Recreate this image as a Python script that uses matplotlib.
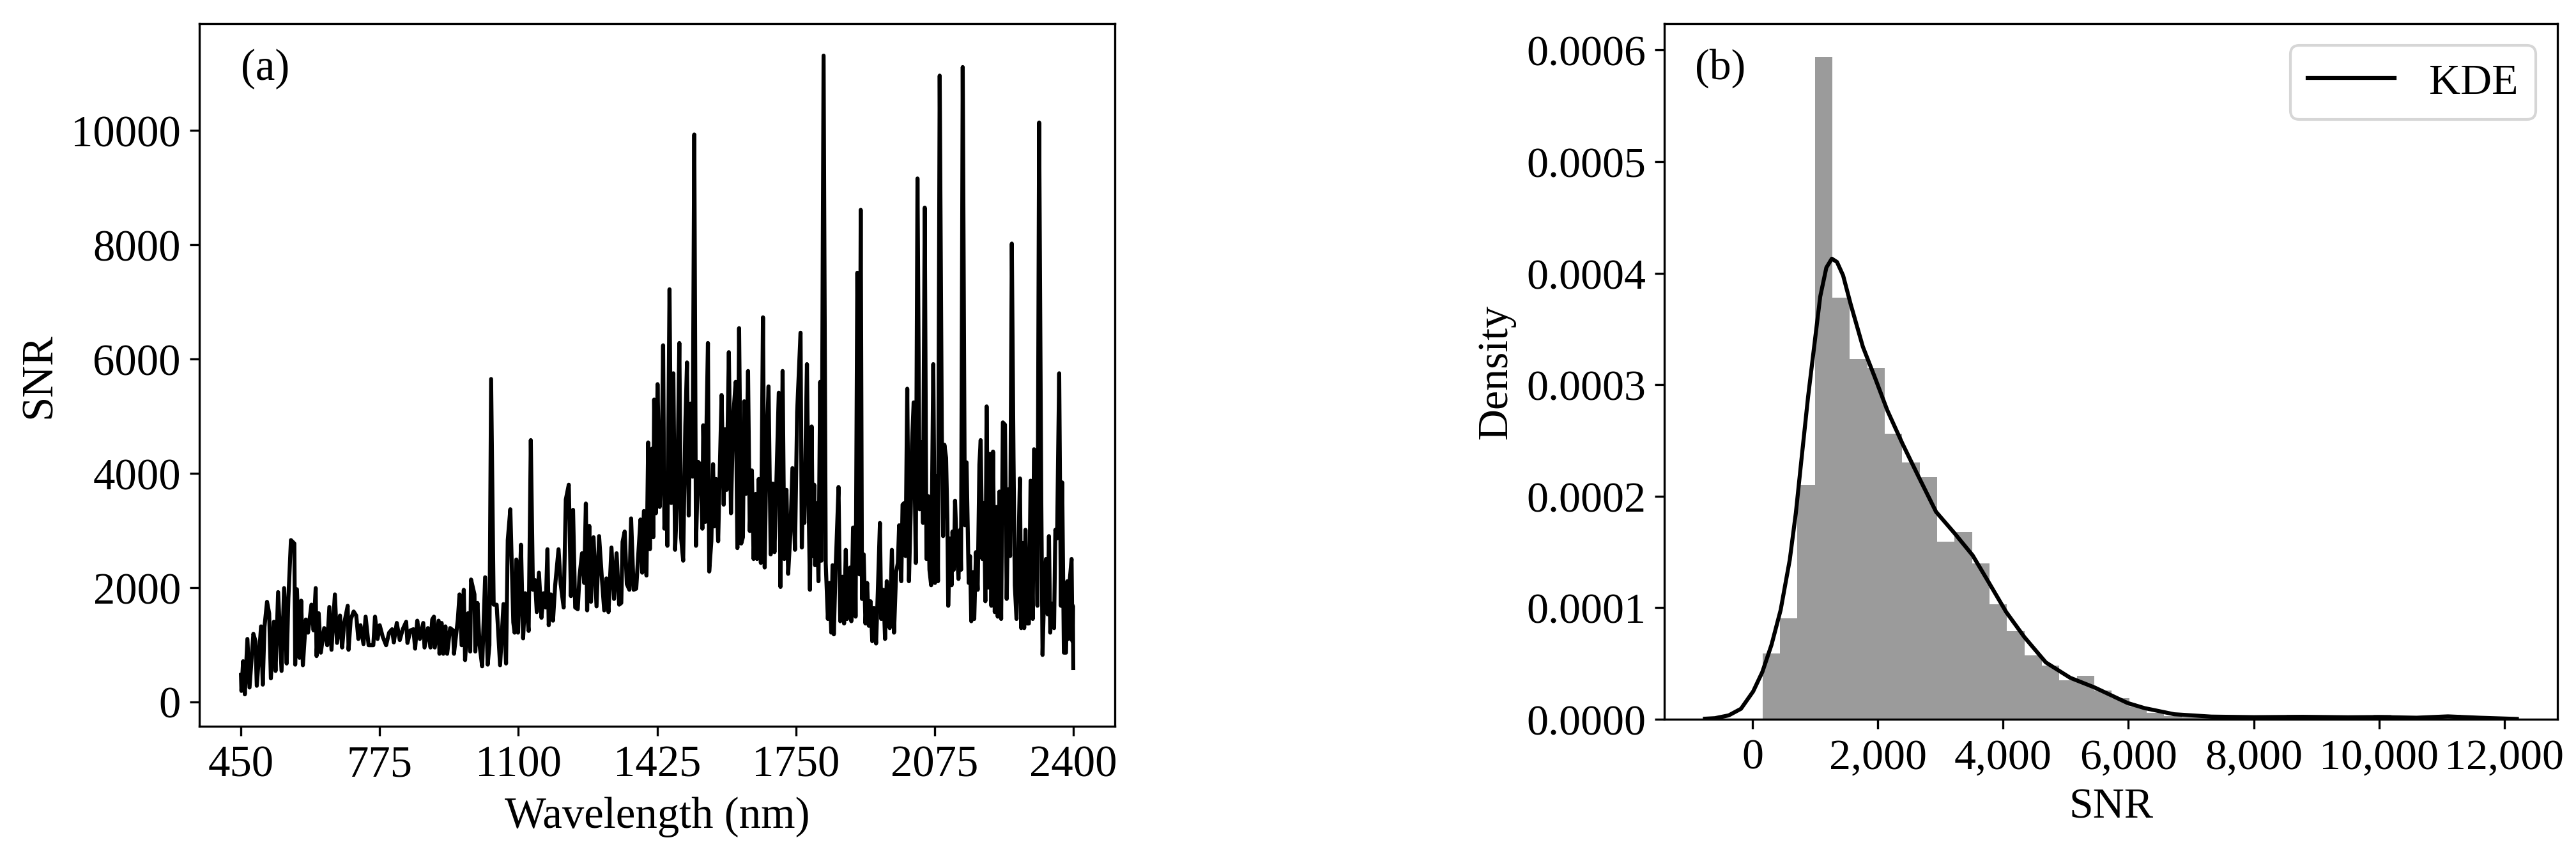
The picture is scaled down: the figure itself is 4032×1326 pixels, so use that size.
import matplotlib

matplotlib.use("Agg")
import matplotlib.pyplot as plt
import matplotlib as mpl
from matplotlib.ticker import FuncFormatter
import numpy as np

# SNR spectrum
wavelength_nm = [
    450, 451, 455, 459, 465, 470, 479, 484, 487, 497, 501, 505, 511, 516, 520,
    527, 531, 537, 545, 551, 557, 561, 567, 575, 577, 581, 587, 591, 595, 602,
    607, 615, 620, 625, 627, 632, 637, 645, 652, 657, 662, 670, 675, 682, 687,
    692, 700, 702, 707, 714, 720, 725, 730, 737, 742, 749,
    760, 764, 770, 775, 782, 790, 797, 804, 808, 815, 822, 829, 837, 840, 847,
    854, 858, 863, 869, 877, 880, 888, 894, 898, 902, 904, 913, 915, 920, 924,
    929, 933, 940, 947, 949, 958, 962, 967, 972, 975, 982, 987, 989, 997, 999,
    1004, 1009, 1015, 1022, 1028, 1032, 1036, 1042, 1049, 1057, 1065, 1071,
    1075, 1081,
    1088, 1091, 1095, 1099, 1103, 1106, 1111, 1116, 1124, 1129, 1134, 1139,
    1143, 1148, 1154, 1159, 1164, 1168, 1171, 1176, 1181, 1186, 1194, 1199,
    1206, 1211, 1218, 1223, 1228, 1233, 1239, 1243, 1249, 1254, 1258, 1261,
    1266, 1270, 1276, 1283, 1289, 1296, 1301, 1306, 1311, 1318, 1324, 1330,
    1336, 1341, 1344, 1349, 1354, 1360, 1364, 1370, 1376, 1381, 1386, 1390,
    1394, 1400, 1404, 1408,
    1413, 1416, 1418, 1422, 1426, 1431, 1436, 1439, 1442, 1446, 1449, 1454,
    1458, 1463, 1467, 1472, 1477, 1481, 1486, 1491, 1495, 1499, 1503, 1508,
    1512, 1516, 1521, 1526, 1531, 1533, 1538, 1541, 1544, 1547, 1552, 1556,
    1559, 1563, 1568, 1572, 1576, 1581, 1584, 1588, 1593, 1598, 1603, 1609,
    1613, 1617, 1622, 1626, 1629, 1633, 1638, 1642, 1647, 1651, 1656, 1659,
    1663, 1668, 1673, 1677, 1681, 1686, 1691, 1696, 1700, 1704, 1710, 1714,
    1719, 1723, 1728, 1732, 1737, 1742, 1748, 1753,
    1761, 1764, 1767, 1770, 1773, 1776, 1779, 1783, 1787, 1790, 1793, 1795,
    1799, 1803, 1807, 1810, 1815, 1820, 1825, 1829, 1833, 1836, 1839, 1843,
    1845, 1850, 1854, 1859, 1863, 1867, 1870, 1874, 1877, 1880, 1884, 1888,
    1890, 1894, 1899, 1902, 1905, 1909, 1913, 1917, 1921, 1925, 1929, 1933,
    1938, 1942, 1947, 1950, 1955, 1959, 1963, 1967, 1970, 1975, 1980, 1985,
    1989, 1992, 1997, 2000, 2004, 2007, 2011, 2015, 2019, 2022, 2026, 2031,
    2035, 2040, 2045, 2048, 2052, 2056, 2060, 2063, 2067, 2072, 2076, 2080,
    2083, 2087, 2092, 2095, 2098, 2102, 2105, 2107, 2111, 2115, 2117, 2120,
    2123, 2127, 2131, 2135, 2137, 2141, 2146, 2150, 2155, 2158, 2161, 2165,
    2168, 2172, 2176, 2180, 2183, 2187, 2191, 2194, 2197, 2201, 2205, 2208,
    2212, 2216, 2220, 2223, 2227, 2231, 2235, 2240, 2244, 2248, 2252, 2256,
    2260, 2263, 2267, 2271, 2275, 2278, 2281, 2285, 2288, 2292, 2296, 2300,
    2305, 2308, 2312, 2316, 2320, 2325, 2328, 2332, 2336, 2340, 2343, 2346,
    2350, 2355, 2358, 2362, 2367, 2371, 2374, 2378, 2383, 2386, 2389, 2392,
    2396, 2398, 2399, 2400,
]
snr = [
    470, 190, 710, 130, 1100, 250, 1190, 1060, 280, 1320, 300, 1310, 1750,
    1550, 410, 1400, 540, 1920, 540, 1990, 670, 1810, 2830, 2770, 650, 1970,
    770, 1770, 640, 1440, 1210, 1700, 1250, 1990, 800, 1550, 860, 1290, 990,
    1660, 910, 1880, 1030, 1510, 950, 1380, 1680, 910, 1440, 1580, 1510, 1100,
    1340, 1010, 1490, 990,
    990, 1490, 1100, 1340, 1140, 990, 1210, 1270, 1040, 1380, 1080, 1270, 1400,
    1030, 1250, 1270, 930, 1420, 1100, 1380, 950, 1290, 950, 1440, 1490, 950,
    1420, 840, 1380, 840, 1320, 840, 1290, 1250, 840, 1440, 1880, 990, 1960,
    730, 1550, 880, 2140, 1880, 880, 1730, 990, 620, 2180, 650, 990, 5650,
    1700, 1700, 640, 1710, 670, 2830, 3370,
    1390, 1210, 2490, 1210, 2060, 2750, 1110, 1900, 1240, 4580, 1960, 2130,
    1570, 2260, 1470, 1900, 1650, 2670, 1340, 1880, 1420, 2030, 2670, 2060,
    1650, 3540, 3800, 1850, 3360, 1650, 1620, 2190, 2600, 2080, 3470, 1600,
    3080, 1750, 2880, 1670, 2900, 2110, 1600, 2160, 1570, 2700, 1800, 2600,
    1700, 1730, 2800, 2980, 2060, 1960, 3210, 1960, 1980, 2600, 3190, 2260,
    3340, 2210, 4540, 2670,
    4430, 2880, 5290, 3300, 5560, 3410, 4390, 6240, 3030, 3900, 2730, 7220,
    3480, 5750, 2660, 3560, 6280, 2880, 2470, 4840, 5940, 3260, 5220, 3940,
    9930, 2730, 4200, 4160, 3030, 4840, 3150, 4990, 6280, 2280, 2810, 4160,
    3070, 3900, 2810, 4130, 5370, 3450, 4770, 3710, 6120, 3300, 4960, 5600,
    2690, 6540, 2770, 2880, 5260, 3640, 5790, 2990, 4050, 2500, 3640, 2500,
    3900, 2430, 6730, 2350, 4310, 5520, 2580, 3820, 2620, 3750, 5410, 2010,
    5790, 2500, 3710, 2240, 2920, 4090, 2660, 5070,
    6460, 2700, 3720, 3130, 4580, 5910, 3950, 1960, 4820, 2550, 3800, 2390,
    3480, 2110, 5600, 2470, 11310, 2430, 1450, 2080, 1210, 2390, 1180, 2310,
    2700, 3760, 1410, 2190, 1370, 2660, 1450, 1570, 2350, 1410, 3050, 3050,
    1490, 7510, 2230, 8610, 1800, 2580, 1370, 2080, 1330, 1760, 1060, 1640,
    1020, 1920, 3130, 1450, 1960, 1100, 2110, 1530, 1290, 2660, 1210, 2270,
    2430, 3090, 2110, 3450, 3480, 2550, 5480, 2110, 3290, 4500, 5240, 2430,
    9160, 3370, 4540, 3130, 8650, 2500, 3600, 2310, 2040, 5910, 2080, 3950,
    2110, 10960, 4740, 2900, 4500, 4270, 3210, 1680, 2860, 2040, 2980, 2310,
    3520, 2700, 2150, 3010, 2310, 11110, 3090, 4190, 2080, 2550, 1410, 2270,
    1450, 2620, 1960, 4150, 4580, 2500, 3480, 1760, 5170, 2000, 4340, 1680,
    4380, 1570, 3410, 1490, 3680, 1450, 4890, 4850, 1800, 3720, 2550, 8020,
    4270, 2040, 1450, 2500, 3910, 1290, 2780, 1290, 3010, 1370, 1370, 3870,
    1450, 4420, 4380, 1680, 10140, 3560, 820, 2000, 2500, 1530, 2900, 1210,
    1720, 1290, 3010, 2860, 5750, 1680, 3840, 860, 860, 2110, 1100, 2150,
    2500, 1060, 1680, 590,
]
wavelength_ticks = [450, 775, 1100, 1425, 1750, 2075, 2400]
snr_ticks = [0, 2000, 4000, 6000, 8000, 10000]

# SNR distribution
hist_range = [160, 11310]
hist_density = [
    0.0000590, 0.0000903, 0.000210, 0.000594, 0.000378, 0.000323, 0.000315,
    0.000256, 0.000230, 0.000217, 0.000159, 0.000168, 0.000140, 0.000103,
    0.0000792, 0.0000573, 0.0000483, 0.0000351, 0.0000392, 0.0000260,
    0.0000190, 0.0000115, 0.0000057, 0.0000030, 0.0000020, 0.0000020,
    0.0000020, 0.0, 0.0000020, 0.0, 0.0000040, 0.0, 0.0000020, 0.0, 0.0,
    0.0000040, 0.0, 0.0, 0.0000020, 0.0000040,
]
kde_snr = [
    -760, -600, -380, -185, 10, 156, 302, 448, 594, 691, 788, 886, 983, 1080,
    1178, 1265, 1348, 1445, 1567, 1761, 1956, 2151, 2394, 2637, 2929, 3221,
    3513, 3757, 4048, 4340, 4681, 5070, 5460, 5985, 6257, 6731, 7323, 8000,
    8800, 9500, 10000, 10600, 11100, 11600, 12200,
]
kde_density = [
    0.0000005, 0.0000010, 0.0000035, 0.0000094, 0.0000250, 0.0000424,
    0.0000667, 0.0000979, 0.000143, 0.000185, 0.000237, 0.000289, 0.000334,
    0.000379, 0.000405, 0.000413, 0.000410, 0.000398, 0.000372, 0.000334,
    0.000306, 0.000277, 0.000247, 0.000219, 0.000186, 0.000167, 0.000147,
    0.000124, 0.0000962, 0.0000736, 0.0000510, 0.0000372, 0.0000285,
    0.0000146, 0.0000100, 0.0000045, 0.0000024, 0.0000019, 0.0000022,
    0.0000018, 0.0000020, 0.0000014, 0.0000026, 0.0000014, 0.0000003,
]
dist_snr_ticks = [0, 2000, 4000, 6000, 8000, 10000, 12000]
density_ticks = [0.0, 0.0001, 0.0002, 0.0003, 0.0004, 0.0005, 0.0006]


def plot_spectrum(ax, fontsize):
    """
    Plot the SNR as a function of wavelength (panel a)
    """
    ax.plot(wavelength_nm, snr, color="black", lw=1.5)
    ax.set_xticks(wavelength_ticks)
    ax.set_yticks(snr_ticks)
    ax.set_xlabel("Wavelength (nm)", fontsize=fontsize)
    ax.set_ylabel("SNR", fontsize=fontsize)
    ax.tick_params("both", labelsize=fontsize)
    ax.text(0.045, 0.965, "(a)", transform=ax.transAxes, va="top",
            fontsize=fontsize)


def plot_distribution(ax, fontsize):
    """
    Plot the histogram of the SNR values with the KDE on top (panel b)
    """
    nbins = len(hist_density)
    edges = np.linspace(hist_range[0], hist_range[1], nbins + 1)
    ax.bar(edges[:-1], hist_density, width=np.diff(edges), align="edge",
           color="#9b9b9b", linewidth=0)
    ax.plot(kde_snr, kde_density, color="black", lw=1.5, label="KDE")

    ax.set_xticks(dist_snr_ticks)
    ax.set_yticks(density_ticks)
    ax.xaxis.set_major_formatter(FuncFormatter(lambda x, p: "{:,.0f}".format(x)))
    ax.yaxis.set_major_formatter(FuncFormatter(lambda y, p: "{:.4f}".format(y)))
    ax.set_xlabel("SNR", fontsize=fontsize)
    ax.set_ylabel("Density", fontsize=fontsize)
    ax.tick_params("both", labelsize=fontsize)
    ax.text(0.034, 0.965, "(b)", transform=ax.transAxes, va="top",
            fontsize=fontsize)
    ax.legend(loc="upper right", fontsize=fontsize, edgecolor="#cccccc")


if __name__ == "__main__":
    mpl.rc("font", family="serif", serif=["Liberation Serif", "DejaVu Serif"])
    mpl.rc("axes", linewidth=0.8)

    fig = plt.figure(figsize=(13.44, 4.4233))
    ax_a = fig.add_axes([0.0774, 0.1424, 0.3554, 0.8289])
    ax_b = fig.add_axes([0.6461, 0.1507, 0.3467, 0.8206])

    plot_spectrum(ax_a, 16.5)
    plot_distribution(ax_b, 16.3)

    fig.savefig("out.png", dpi=300)
    plt.close()
